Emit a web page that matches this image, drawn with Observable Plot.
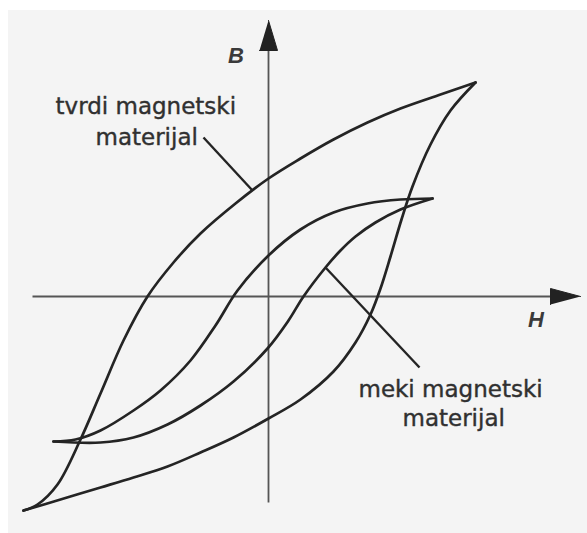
<!DOCTYPE html>
<html>
<head>
<meta charset="utf-8">
<script src="https://cdn.jsdelivr.net/npm/d3@7"></script>
<script src="https://cdn.jsdelivr.net/npm/@observablehq/plot@0.6"></script>
<style>
  html, body { margin: 0; padding: 0; background: #fff; }
</style>
</head>
<body>
<div id="chart"></div>
<script>
// Hysteresis loops, values in arbitrary (H, B) units
const hardDescending = [
  [4.14, 4.28], [3.44, 4.04], [2.64, 3.76], [1.98, 3.48], [1.30, 3.14], [0.64, 2.76],
  [0.00, 2.36], [-0.66, 1.86], [-1.36, 1.26], [-1.90, 0.68], [-2.42, 0.00],
  [-2.90, -0.88], [-3.36, -1.94], [-3.76, -2.86], [-4.22, -3.76], [-4.62, -4.16],
  [-4.90, -4.28]
];
const hardAscending = [
  [-4.90, -4.28], [-4.16, -4.06], [-3.36, -3.82], [-2.70, -3.62], [-2.02, -3.40],
  [-1.36, -3.12], [-0.70, -2.82], [0.00, -2.44], [0.64, -2.06], [1.30, -1.50],
  [1.74, -0.92], [2.04, -0.36], [2.24, 0.16], [2.44, 0.80], [2.66, 1.54],
  [2.88, 2.20], [3.24, 3.04], [3.64, 3.72], [4.14, 4.28]
];
const softDescending = [
  [3.28, 1.96], [2.64, 1.94], [1.98, 1.86], [1.30, 1.68], [0.64, 1.34], [0.00, 0.82],
  [-0.62, 0.12], [-1.06, -0.58], [-1.56, -1.28], [-2.16, -1.88], [-2.70, -2.28],
  [-3.36, -2.68], [-3.86, -2.86], [-4.30, -2.90]
];
const softAscending = [
  [-4.30, -2.90], [-3.36, -2.92], [-2.70, -2.82], [-2.02, -2.56], [-1.36, -2.18],
  [-0.70, -1.70], [-0.02, -1.04], [0.40, -0.48], [0.70, 0.00], [1.14, 0.58],
  [1.44, 0.92], [1.74, 1.20], [2.14, 1.48], [2.64, 1.74], [3.28, 1.96]
];

// Axis extents (H axis along B = 0, B axis along H = 0)
const hAxis = {from: -4.72, to: 6.24, head: 0.60, halfWidth: 0.16};
const bAxis = {from: -4.12, to: 5.52, head: 0.60, halfWidth: 0.18};

// Labels
const axisLabels = [
  {text: "B", x: -0.65, y: 4.82},
  {text: "H", x: 5.35, y: -0.46}
];
const annotations = [
  {text: "tvrdi magnetski", x: -4.26, y: 3.66},
  {text: "materijal", x: -3.46, y: 3.04},
  {text: "meki magnetski", x: 1.80, y: -2.00},
  {text: "materijal", x: 2.68, y: -2.58}
];
const leaders = [
  {x1: -1.30, y1: 3.18, x2: -0.32, y2: 2.12},
  {x1: 1.14, y1: 0.58, x2: 3.02, y2: -1.42}
];

const curves = [hardDescending, hardAscending, softDescending, softAscending]
  .flatMap((pts, i) => pts.map(([h, b]) => ({h, b, id: i})));

const hHead = [
  {x: hAxis.to, y: 0},
  {x: hAxis.to - hAxis.head, y: hAxis.halfWidth},
  {x: hAxis.to - hAxis.head, y: -hAxis.halfWidth}
];
const bHead = [
  {x: 0, y: bAxis.to},
  {x: bAxis.halfWidth, y: bAxis.to - bAxis.head},
  {x: -bAxis.halfWidth, y: bAxis.to - bAxis.head}
];

const ink = "#242424";
const chart = Plot.plot({
  width: 587,
  height: 533,
  margin: 0,
  x: {domain: [-5.36, 6.38], axis: null},
  y: {domain: [-4.74, 5.92], axis: null},
  style: {
    background: "linear-gradient(#ffffff 0 10px, transparent 10px), linear-gradient(90deg, #ffffff 0 8px, #f4f4f4 8px)",
    overflow: "visible"
  },
  marks: [
    // axes
    Plot.link([{x1: hAxis.from, x2: hAxis.to - hAxis.head / 2, y: 0}],
      {x1: "x1", x2: "x2", y1: "y", y2: "y", stroke: "#555", strokeWidth: 1.8}),
    Plot.link([{y1: bAxis.from, y2: bAxis.to - bAxis.head / 2, x: 0}],
      {y1: "y1", y2: "y2", x1: "x", x2: "x", stroke: "#555", strokeWidth: 1.8}),
    Plot.line(hHead, {x: "x", y: "y", fill: "#222", stroke: "#222", strokeWidth: 1}),
    Plot.line(bHead, {x: "x", y: "y", fill: "#222", stroke: "#222", strokeWidth: 1}),
    // hysteresis loops
    Plot.line(curves, {x: "h", y: "b", z: "id", curve: "catmull-rom",
      stroke: ink, strokeWidth: 2.7}),
    // leader lines
    Plot.link(leaders, {x1: "x1", y1: "y1", x2: "x2", y2: "y2", stroke: ink, strokeWidth: 2.4}),
    // axis labels
    Plot.text(axisLabels, {x: "x", y: "y", text: "text", fontFamily: "Liberation Sans",
      fontSize: 22, fontStyle: "italic", fontWeight: "bold", fill: "#3a3a3a"}),
    // annotations
    Plot.text(annotations, {x: "x", y: "y", text: "text", fontFamily: "DejaVu Sans",
      fontSize: 23, textAnchor: "start", lineAnchor: "bottom", fill: "#303030",
      stroke: "#303030", strokeWidth: 0.4})
  ]
});
document.getElementById("chart").appendChild(chart);
</script>
</body>
</html>
